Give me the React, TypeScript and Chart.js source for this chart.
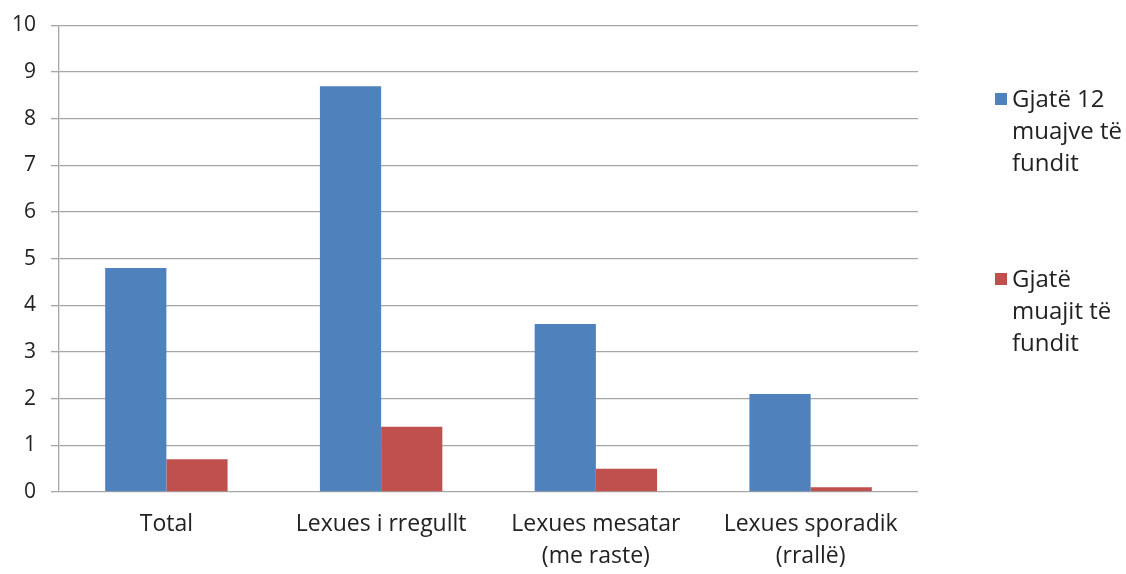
import React, { useEffect, useRef } from "react";
import { Chart, registerables } from "chart.js";

Chart.register(...registerables);

const categories: (string | string[])[] = [
  "Total",
  "Lexues i rregullt",
  ["Lexues mesatar", "(me raste)"],
  ["Lexues sporadik", "(rrallë)"],
];
const series12Months = [4.8, 8.7, 3.6, 2.1];
const seriesLastMonth = [0.7, 1.4, 0.5, 0.1];
const seriesLabels = ["Gjatë 12 muajve të fundit", "Gjatë muajit të fundit"];
const legendLines = [
  ["Gjatë 12", "muajve të", "fundit"],
  ["Gjatë", "muajit të", "fundit"],
];
const yTicks = [0, 1, 2, 3, 4, 5, 6, 7, 8, 9, 10];

const BLUE = "#4F81BD";
const RED = "#C0504D";
const GRID = "#A6A6A6";
const TEXT = "#222222";
const FONT = "'Open Sans', Lato, sans-serif";

const legendPlugin = {
  id: "sideLegend",
  afterDraw(chart: any) {
    const ctx = chart.ctx;
    ctx.save();
    ctx.font = `24px ${FONT}`;
    ctx.textBaseline = "middle";
    ctx.textAlign = "left";
    const tops = [99, 279];
    chart.data.datasets.forEach((ds: any, i: number) => {
      const y0 = tops[i];
      ctx.fillStyle = ds.backgroundColor;
      ctx.fillRect(995, y0 - 6, 12, 12);
      ctx.fillStyle = TEXT;
      legendLines[i].forEach((line, j) => {
        ctx.fillText(line, 1012, y0 + 1 + j * 32);
      });
    });
    ctx.restore();
  },
};

export default function App() {
  const ref = useRef<HTMLCanvasElement | null>(null);
  useEffect(() => {
    document.body.style.margin = "0";
    const canvas = ref.current!;
    const chart = new Chart(canvas, {
      type: "bar",
      data: {
        labels: categories,
        datasets: [
          {
            label: seriesLabels[0],
            data: series12Months,
            backgroundColor: BLUE,
            barPercentage: 1,
            categoryPercentage: 0.57,
          },
          {
            label: seriesLabels[1],
            data: seriesLastMonth,
            backgroundColor: RED,
            barPercentage: 1,
            categoryPercentage: 0.57,
          },
        ],
      },
      options: {
        animation: false,
        responsive: false,
        maintainAspectRatio: false,
        layout: { padding: { left: 0, right: 208, top: 24, bottom: 0 } },
        plugins: {
          legend: { display: false },
          tooltip: { enabled: false },
        },
        scales: {
          x: {
            grid: { display: false, drawTicks: false },
            border: { display: false },
            ticks: {
              color: TEXT,
              font: { family: FONT, size: 23, lineHeight: 1.4 },
              padding: 16,
              maxRotation: 0,
              autoSkip: false,
            },
            afterFit(scale: any) {
              scale.height = 82;
            },
          },
          y: {
            min: 0,
            max: 10,
            afterBuildTicks(scale: any) {
              scale.ticks = yTicks.map((v) => ({ value: v }));
            },
            grid: {
              color: GRID,
              lineWidth: 1.3,
              tickLength: 8,
              drawTicks: true,
            },
            border: { display: true, color: GRID, width: 1.3 },
            ticks: {
              color: TEXT,
              font: { family: FONT, size: 21, lineHeight: 1 },
              padding: 15,
            },
            afterFit(scale: any) {
              scale.width = 59;
            },
          },
        },
      },
      plugins: [legendPlugin],
    });
    return () => chart.destroy();
  }, []);
  return (
    <div style={{ width: 1126, height: 574 }}>
      <canvas ref={ref} width={1126} height={574} style={{ display: "block" }} />
    </div>
  );
}
